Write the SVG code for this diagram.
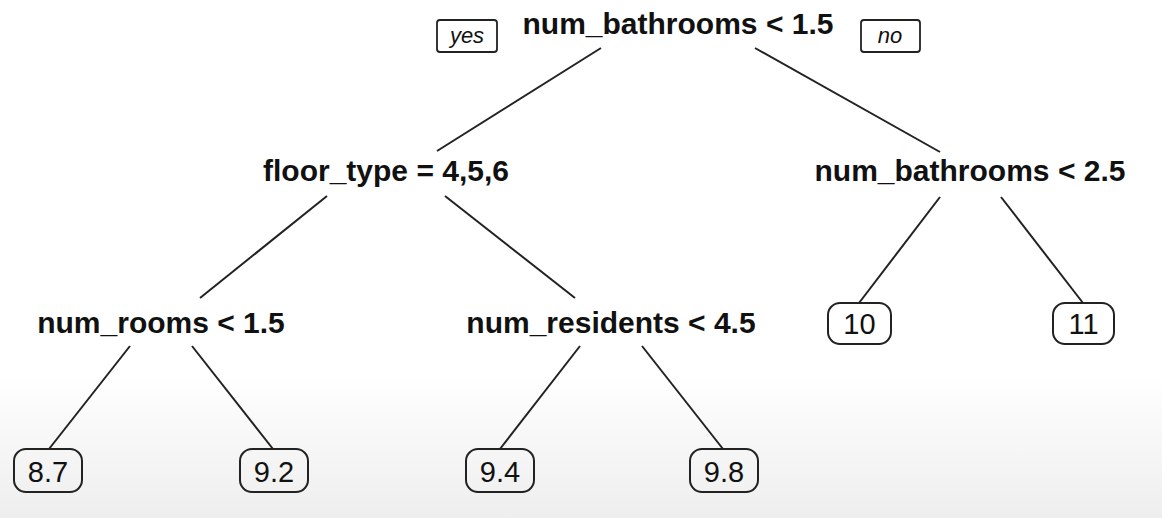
<svg xmlns="http://www.w3.org/2000/svg" width="1162" height="518" viewBox="0 0 1162 518">
<defs>
<linearGradient id="bg" x1="0" y1="0" x2="0" y2="1">
<stop offset="0" stop-color="#ffffff"/>
<stop offset="0.72" stop-color="#ffffff"/>
<stop offset="1" stop-color="#eeeeee"/>
</linearGradient>
<style>
.split{font-family:"Liberation Sans",Arial,sans-serif;font-weight:bold;font-size:30px;fill:#111;text-anchor:middle}
.leaf rect{fill:none;stroke:#222;stroke-width:2}
.leaf text{font-family:"Liberation Sans",Arial,sans-serif;font-size:29px;fill:#111;text-anchor:middle}
.lab rect{fill:none;stroke:#222;stroke-width:1.8}
.lab text{font-family:"Liberation Sans",Arial,sans-serif;font-style:italic;font-size:22px;fill:#111;text-anchor:middle}
#edges line{stroke:#222;stroke-width:2}
</style>
</defs>
<rect width="1162" height="518" fill="url(#bg)"/>
<g id="edges">
<line x1="601" y1="48" x2="437" y2="151"/>
<line x1="755" y1="48" x2="940" y2="152"/>
<line x1="327" y1="196" x2="200" y2="298"/>
<line x1="445" y1="196" x2="575" y2="298"/>
<line x1="940" y1="197" x2="859" y2="303"/>
<line x1="1001" y1="197" x2="1083" y2="303"/>
<line x1="130" y1="346" x2="49" y2="449"/>
<line x1="192" y1="346" x2="273" y2="449"/>
<line x1="580" y1="346" x2="500" y2="449"/>
<line x1="642" y1="346" x2="723" y2="449"/>
</g>
<g id="label-yes" class="lab"><rect x="437" y="20" width="60" height="32" rx="3"/><text x="467" y="43">yes</text></g>
<g id="label-no" class="lab"><rect x="861" y="20" width="59" height="32" rx="3"/><text x="890" y="43">no</text></g>
<g id="n1"><text class="split" x="678" y="34">num_bathrooms &lt; 1.5</text></g>
<g id="n2"><text class="split" x="386" y="181">floor_type = 4,5,6</text></g>
<g id="n3"><text class="split" x="970" y="181">num_bathrooms &lt; 2.5</text></g>
<g id="n4"><text class="split" x="161" y="333">num_rooms &lt; 1.5</text></g>
<g id="n5"><text class="split" x="611" y="333">num_residents &lt; 4.5</text></g>
<g id="leaf10" class="leaf"><rect x="828" y="303" width="63" height="41" rx="12"/><text x="859.5" y="334">10</text></g>
<g id="leaf11" class="leaf"><rect x="1053" y="303" width="61" height="41" rx="12"/><text x="1083.5" y="334">11</text></g>
<g id="leaf87" class="leaf"><rect x="14" y="449" width="68" height="43" rx="12"/><text x="48" y="482">8.7</text></g>
<g id="leaf92" class="leaf"><rect x="240" y="449" width="68" height="43" rx="12"/><text x="274" y="482">9.2</text></g>
<g id="leaf94" class="leaf"><rect x="466" y="449" width="68" height="43" rx="12"/><text x="500" y="482">9.4</text></g>
<g id="leaf98" class="leaf"><rect x="690" y="449" width="68" height="43" rx="12"/><text x="724" y="482">9.8</text></g>
</svg>
